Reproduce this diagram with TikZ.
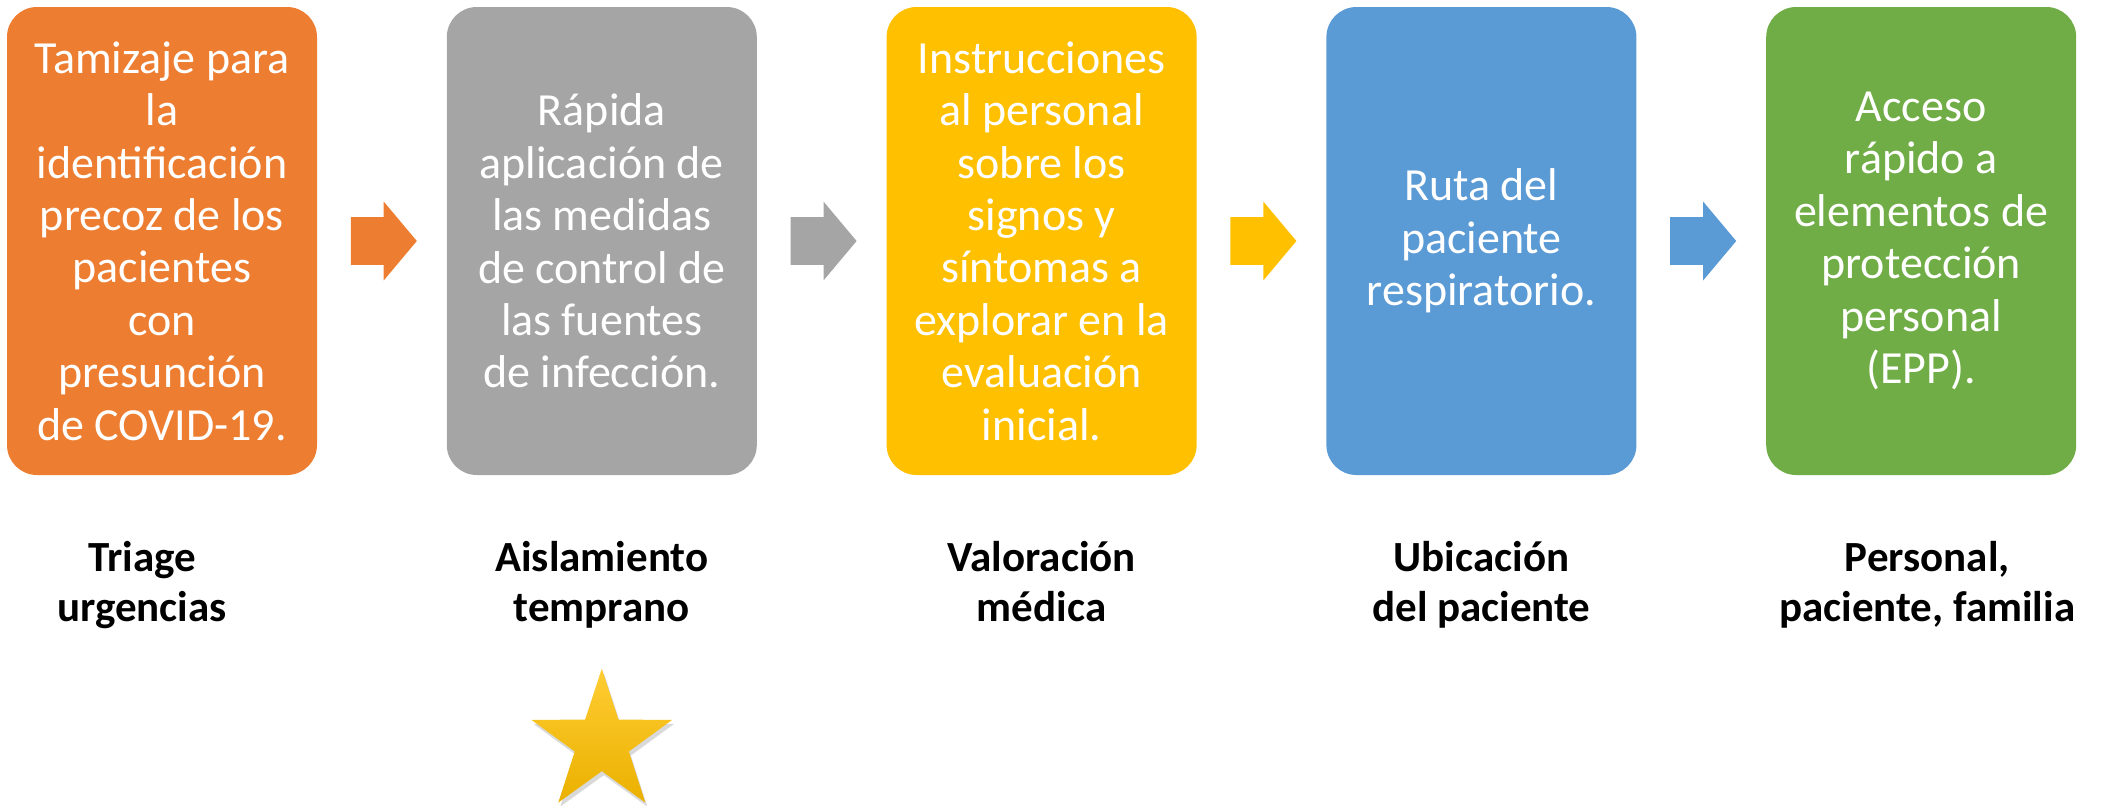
\documentclass[tikz,border=0pt]{standalone}
\usepackage{fontspec}
\setmainfont{Carlito}
\usetikzlibrary{positioning,shapes.arrows,shapes.geometric,shadows}

\definecolor{naranja}{HTML}{ED7D31}
\definecolor{gris}{HTML}{A5A5A5}
\definecolor{amarillo}{HTML}{FFC000}
\definecolor{azul}{HTML}{5B9BD5}
\definecolor{verde}{HTML}{70AD47}

\tikzset{
  paso/.style={rectangle, rounded corners=15pt, minimum width=155pt,
    minimum height=234pt, inner sep=0pt, align=center, text=white,
    font=\fontsize{23pt}{26.2pt}\selectfont},
  flecha/.style={single arrow, single arrow head extend=7.75pt,
    single arrow tip angle=100, minimum height=33pt,
    inner xsep=0pt, inner ysep=11.75pt},
  etiqueta/.style={align=center, inner sep=0pt,
    font=\bfseries\fontsize{21.5pt}{25pt}\selectfont},
  estrella/.style={star, star points=5, star point ratio=2.6,
    minimum size=74pt, inner sep=0pt, top color=amarillo!80!white,
    bottom color=amarillo!92!black,
    drop shadow={opacity=0.3, shadow xshift=1pt, shadow yshift=-2pt}}
}

\begin{document}
\begin{tikzpicture}
\useasboundingbox (0,0) rectangle (1051.5pt,-402.5pt);

% pasos
\node[paso, fill=naranja] (b1) at (81pt,-120.5pt)
  {Tamizaje para\\la\\identificación\\precoz de los\\pacientes\\con\\presunción\\de COVID-19.};
\node[paso, fill=gris, right=64.5pt of b1] (b2)
  {Rápida\\aplicación de\\las medidas\\de control de\\las fuentes\\de infección.};
\node[paso, fill=amarillo, right=64.5pt of b2] (b3)
  {Instrucciones\\al personal\\sobre los\\signos y\\síntomas a\\explorar en la\\evaluación\\inicial.};
\node[paso, fill=azul, right=64.5pt of b3] (b4)
  {Ruta del\\paciente\\respiratorio.};
\node[paso, fill=verde, right=64.5pt of b4] (b5)
  {Acceso\\rápido a\\elementos de\\protección\\personal\\(EPP).};

% flechas
\node[flecha, fill=naranja, right=16.5pt of b1] (f1) {};
\node[flecha, fill=gris, right=16.5pt of b2] (f2) {};
\node[flecha, fill=amarillo, right=16.5pt of b3] (f3) {};
\node[flecha, fill=azul, right=16.5pt of b4] (f4) {};

% etiquetas
\node[etiqueta, below=33pt of b1, xshift=-10pt] (l1) {Triage\\urgencias};
\node[etiqueta, below=33pt of b2] (l2) {Aislamiento\\temprano};
\node[etiqueta, below=33pt of b3] (l3) {Valoración\\médica};
\node[etiqueta, below=33pt of b4] (l4) {Ubicación\\del paciente};
\node[etiqueta, below=33pt of b5, xshift=3pt] (l5) {Personal,\\paciente, familia};

\node[estrella, below=96pt of b2] (st) {};
\end{tikzpicture}
\end{document}
